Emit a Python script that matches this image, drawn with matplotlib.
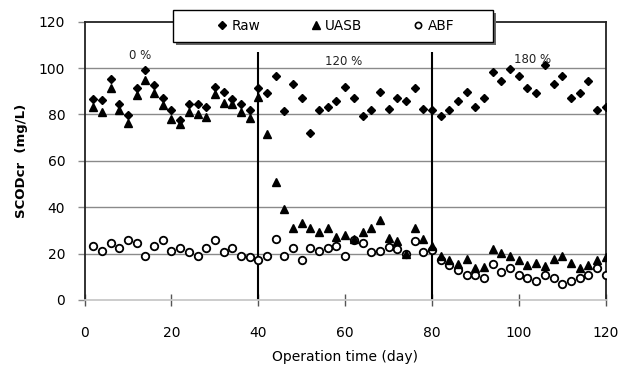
import matplotlib
matplotlib.use("Agg")
import matplotlib.pyplot as plt
from matplotlib.lines import Line2D
from matplotlib.patches import Rectangle
import matplotlib.transforms as mtransforms

days = [2, 4, 6, 8, 10, 12, 14, 16, 18, 20, 22, 24, 26, 28, 30, 32, 34, 36, 38, 40,
        42, 44, 46, 48, 50, 52, 54, 56, 58, 60, 62, 64, 66, 68, 70, 72, 74, 76, 78, 80,
        82, 84, 86, 88, 90, 92, 94, 96, 98, 100, 102, 104, 106, 108, 110, 112, 114, 116, 118, 120]

raw = [86.5, 86, 95.3, 84.3, 79.9, 91.5, 99.2, 92.5, 87.2, 82, 77.4, 84.6, 84.6, 83.4, 91.7, 89.6, 86.5, 84.3, 82, 91.4,
       89.3, 96.4, 81.4, 93.2, 87, 72, 81.7, 83.2, 85.7, 92, 87, 79.3, 81.7, 89.6, 82.2, 87.2, 85.6, 91.5, 82.2, 81.7,
       79.3, 81.7, 85.7, 89.6, 83.2, 87.2, 98.2, 94.3, 99.4, 96.5, 91.5, 89.3, 101.1, 93.2, 96.5, 87, 89.3, 94.3, 82, 83.2]

uasb = [83.2, 81, 91.5, 81.7, 76.3, 88.2, 95, 89.2, 83.9, 78.1, 76, 81, 80.3, 78.8, 88.6, 85, 84.6, 81, 78.6, 87.7,
        71.4, 50.9, 39, 30.8, 33.3, 30.8, 29.4, 30.8, 27, 28, 26.1, 29.4, 30.8, 34.4, 26.5, 25.5, 19.8, 30.8, 26.2, 23.2,
        19.1, 17.2, 15.5, 17.5, 13.6, 14.3, 21.9, 20.3, 19.1, 17.2, 15, 15.8, 14.6, 17.5, 19.1, 15.8, 13.6, 15, 17.2, 18.4]

abf = [23.2, 21.1, 24.4, 22.2, 25.8, 24.4, 19.1, 23.4, 25.8, 21.1, 22.2, 20.5, 18.9, 22.2, 25.8, 20.5, 22.2, 19.1, 18.4, 17.2,
       19.1, 26.1, 18.9, 22.2, 17.2, 22.2, 21.2, 22.2, 23.2, 18.9, 25.8, 24.4, 20.5, 21.2, 23, 21.9, 19.8, 25.5, 20.5, 21.5,
       17.2, 15, 12.9, 10.8, 10.8, 9.3, 15.5, 12.2, 13.6, 10.8, 9.3, 8.3, 10.8, 9.6, 6.9, 8.3, 9.6, 10.8, 13.6, 10.8]

phase_days = [40, 80]
phase_labels = ["0 %", "120 %", "180 %"]
phase_label_x = [12.7, 59.6, 103.2]
phase_label_y = [105.5, 102.8, 103.8]
series_names = ["Raw", "UASB", "ABF"]
x_ticks = [0, 20, 40, 60, 80, 100, 120]
y_ticks = [0, 20, 40, 60, 80, 100, 120]

fig = plt.figure(figsize=(6.18, 3.73), dpi=100)
ax = fig.add_axes([0.137, 0.196, 0.843, 0.746])

ax.set_xlim(0, 120)
ax.set_ylim(0, 120)

for yv in [20, 40, 60, 80, 100]:
    ax.axhline(yv, color="#8a8a8a", lw=1.0, zorder=1)

ax.vlines(phase_days, 0, 106.8, colors="black", lw=1.5, zorder=2)

ax.plot(days, raw, linestyle="none", marker="D", ms=4.5, color="black", zorder=4)
ax.plot(days, uasb, linestyle="none", marker="^", ms=6.0, color="black", zorder=4)
ax.plot(days, abf, linestyle="none", marker="o", ms=5.4, mfc="white", mec="black", mew=1.3, zorder=3)

for lbl, xv, yv in zip(phase_labels, phase_label_x, phase_label_y):
    ax.text(xv, yv, lbl, ha="center", va="center", fontsize=8.5, color="#222222")

for side in ["left", "top", "right"]:
    ax.spines[side].set_color("#222222")
    ax.spines[side].set_linewidth(1.3)
ax.spines["bottom"].set_color("#c8c8c8")
ax.spines["bottom"].set_linewidth(1.3)

ax.set_xticks(x_ticks)
ax.set_yticks(y_ticks)
ax.tick_params(axis="x", direction="inout", length=8, width=1, color="#555555", pad=15, labelsize=10)
ax.tick_params(axis="y", direction="out", length=5, width=1, color="#8a8a8a", pad=9, labelsize=10)

ax.set_xlabel("Operation time (day)", fontsize=10, labelpad=7)
ax.set_ylabel("SCODcr  (mg/L)", fontsize=9.5, fontweight="bold", labelpad=8)

# legend box with shadow (axes coords)
bx0, bw, by0, bh = 0.1705, 0.613, 0.926, 0.115
shadow_tr = ax.transAxes + mtransforms.ScaledTranslation(3 / 100, -3 / 100, fig.dpi_scale_trans)
ax.add_patch(Rectangle((bx0, by0), bw, bh, transform=shadow_tr, facecolor="#666666",
                       edgecolor="none", clip_on=False, zorder=9))
ax.add_patch(Rectangle((bx0, by0), bw, bh, transform=ax.transAxes, facecolor="white",
                       edgecolor="black", lw=1.0, clip_on=False, zorder=10))

handles = [
    Line2D([], [], linestyle="none", marker="D", ms=4.0, color="black"),
    Line2D([], [], linestyle="none", marker="^", ms=5.5, color="black"),
    Line2D([], [], linestyle="none", marker="o", ms=4.5, mfc="white", mec="black", mew=1.2),
]
leg = ax.legend(handles, series_names, loc="center", ncol=3,
                bbox_to_anchor=(0.48, 0.984), fontsize=9.8,
                frameon=False, handletextpad=0.2, columnspacing=3.6,
                borderpad=0.0, handlelength=1.0)
leg.set_zorder(11)

fig.savefig("out.png", dpi=100)
